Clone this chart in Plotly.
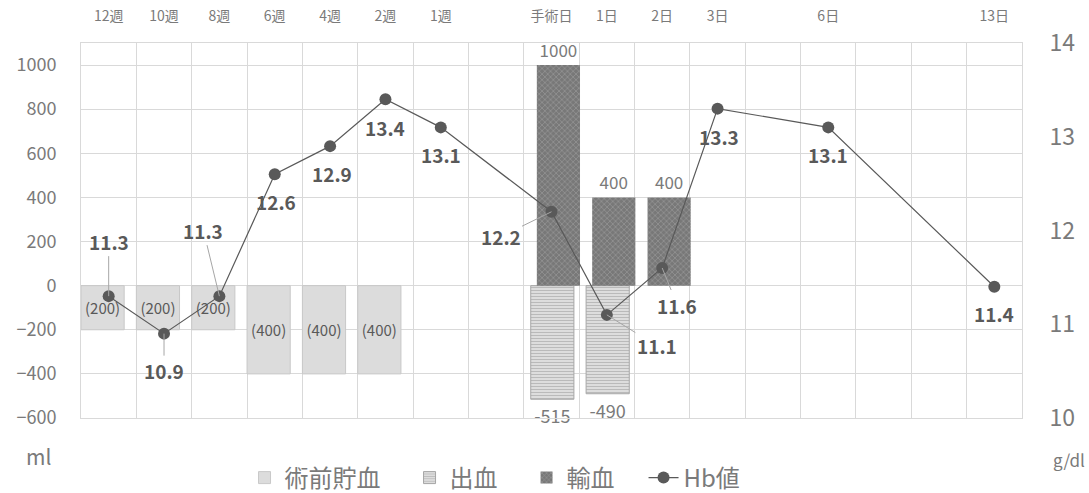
import plotly.graph_objects as go

# ---------------- data ----------------
categories = ["12週", "10週", "8週", "6週", "4週", "2週", "1週", "", "手術日",
              "1日", "2日", "3日", "", "6日", "", "", "13日"]
predeposit = [-200, -200, -200, -400, -400, -400, None, None, None,
              None, None, None, None, None, None, None, None]
bleeding = [None, None, None, None, None, None, None, None, -515,
            -490, None, None, None, None, None, None, None]
transfusion = [None, None, None, None, None, None, None, None, 1000,
               400, 400, None, None, None, None, None, None]
hb = [11.3, 10.9, 11.3, 12.6, 12.9, 13.4, 13.1, None, 12.2,
      11.1, 11.6, 13.3, None, 13.1, None, None, 11.4]

series_names = ["術前貯血", "出血", "輸血", "Hb値"]

# ---------------- styling / layout helpers ----------------
FONT = "Noto Sans CJK JP"
TXT = "#7a7a7a"
DARK = "#595959"
GRID = "#d9d9d9"
PAD = "\u3000"  # legend spacing after an entry

xpos = list(range(len(categories)))
tick_idx = [i for i, c in enumerate(categories) if c]
tick_txt = [categories[i] for i in tick_idx]

BW = 0.78

fig = go.Figure()

fig.add_trace(go.Bar(
    name=series_names[0] + PAD, x=xpos, y=predeposit, width=BW, offset=-0.5,
    marker=dict(color="#dcdcdc", line=dict(color="#c8c8c8", width=1)),
    text=[f"({abs(v)})" if v is not None else "" for v in predeposit],
    textposition="inside", insidetextanchor="middle", constraintext="none",
    textfont=dict(size=15, color=DARK, family=FONT), textangle=0,
))
fig.add_trace(go.Bar(
    name=series_names[1] + PAD, x=xpos, y=bleeding, width=BW, offset=-0.5 + 0.125,
    marker=dict(color="white", line=dict(color="#a6a6a6", width=1),
                pattern=dict(shape="-", fgcolor="#808080", bgcolor="#f4f4f4",
                             size=3, solidity=0.6)),
    text=[str(v) if v is not None else "" for v in bleeding],
    textposition="outside", cliponaxis=False, constraintext="none",
    textfont=dict(size=18, color=TXT, family=FONT), textangle=0,
))
fig.add_trace(go.Bar(
    name=series_names[2] + PAD, x=xpos, y=transfusion, width=BW, offset=-0.5 + 0.235,
    marker=dict(color="#7a7a7a", line=dict(color="#7a7a7a", width=0),
                pattern=dict(shape="x", fgcolor="#b0b0b0", bgcolor="#787878",
                             size=4, solidity=0.35)),
    text=[str(v) if v is not None else "" for v in transfusion],
    textposition="outside", cliponaxis=False, constraintext="none",
    textfont=dict(size=17, color=TXT, family=FONT), textangle=0,
))
fig.add_trace(go.Scatter(
    name=series_names[3], x=xpos, y=hb, yaxis="y2", mode="lines+markers",
    connectgaps=True, line=dict(color=DARK, width=1.2),
    marker=dict(color=DARK, size=12), cliponaxis=False,
))

# Hb data labels: (dx, dy in px from point, leader line?)
label_offsets = {
    0: (0, -55, True), 1: (0, 37, True), 2: (-16, -66, True),
    3: (1, 27, False), 4: (2, 27, False), 5: (0, 28, False), 6: (0, 27, False),
    8: (-51, 25, True), 9: (50, 31, True), 10: (15, 37, True),
    11: (1, 28, False), 13: (0, 27, False), 16: (0, 27, False),
}
for i, v in enumerate(hb):
    if v is None:
        continue
    dx, dy, leader = label_offsets[i]
    common = dict(x=i, y=v, xref="x", yref="y2", text=f"{v:.1f}",
                  font=dict(size=19, color=DARK, family=FONT, weight="bold"))
    if leader:
        fig.add_annotation(**common, showarrow=True, ax=dx, ay=dy,
                           arrowhead=0, arrowwidth=1, arrowcolor="#a6a6a6",
                           standoff=0)
    else:
        fig.add_annotation(**common, showarrow=False, xshift=dx, yshift=-dy)

# unit labels
fig.add_annotation(text="ml", xref="paper", yref="paper", x=-0.045, y=-0.1,
                   xanchor="center", yanchor="middle", showarrow=False,
                   font=dict(size=21, color=TXT, family=FONT))
fig.add_annotation(text="g/dl", xref="paper", yref="paper", x=1.05, y=-0.11,
                   xanchor="center", yanchor="middle", showarrow=False,
                   font=dict(size=17, color=TXT, family=FONT))

fig.update_layout(
    width=1089, height=493,
    margin=dict(l=81, r=67, t=43, b=75, autoexpand=False),
    paper_bgcolor="white", plot_bgcolor="white",
    barmode="overlay",
    font=dict(family=FONT, color=TXT),
    xaxis=dict(
        range=[-0.5, len(categories) - 0.5], side="top",
        tickmode="array", tickvals=tick_idx, ticktext=tick_txt,
        tickfont=dict(size=14, color=TXT),
        ticks="outside", ticklen=15, tickcolor="rgba(0,0,0,0)",
        showgrid=False, zeroline=False,
        showline=True, mirror=True, linecolor=GRID, linewidth=1,
        minor=dict(tick0=0.5, dtick=1, showgrid=True, gridcolor=GRID,
                   gridwidth=1, ticks=""),
    ),
    yaxis=dict(
        range=[-600, 1100], tickmode="array",
        tickvals=[-600, -400, -200, 0, 200, 400, 600, 800, 1000],
        tickfont=dict(size=18, color=TXT),
        ticks="outside", ticklen=20, tickcolor="rgba(0,0,0,0)",
        showgrid=True, gridcolor=GRID, gridwidth=1,
        zeroline=True, zerolinecolor=GRID, zerolinewidth=1,
        showline=True, mirror=True, linecolor=GRID, linewidth=1,
    ),
    yaxis2=dict(
        range=[10, 14], overlaying="y", side="right", dtick=1, tick0=10,
        tickfont=dict(size=23, color=TXT),
        ticks="outside", ticklen=22, tickcolor="rgba(0,0,0,0)",
        showgrid=False, zeroline=False,
    ),
    legend=dict(
        orientation="h", x=0.44, xanchor="center", y=-0.1, yanchor="top",
        font=dict(size=24, color=TXT, family=FONT),
        traceorder="normal", bgcolor="rgba(0,0,0,0)",
    ),
    showlegend=True,
)

fig.write_html("out.html")
